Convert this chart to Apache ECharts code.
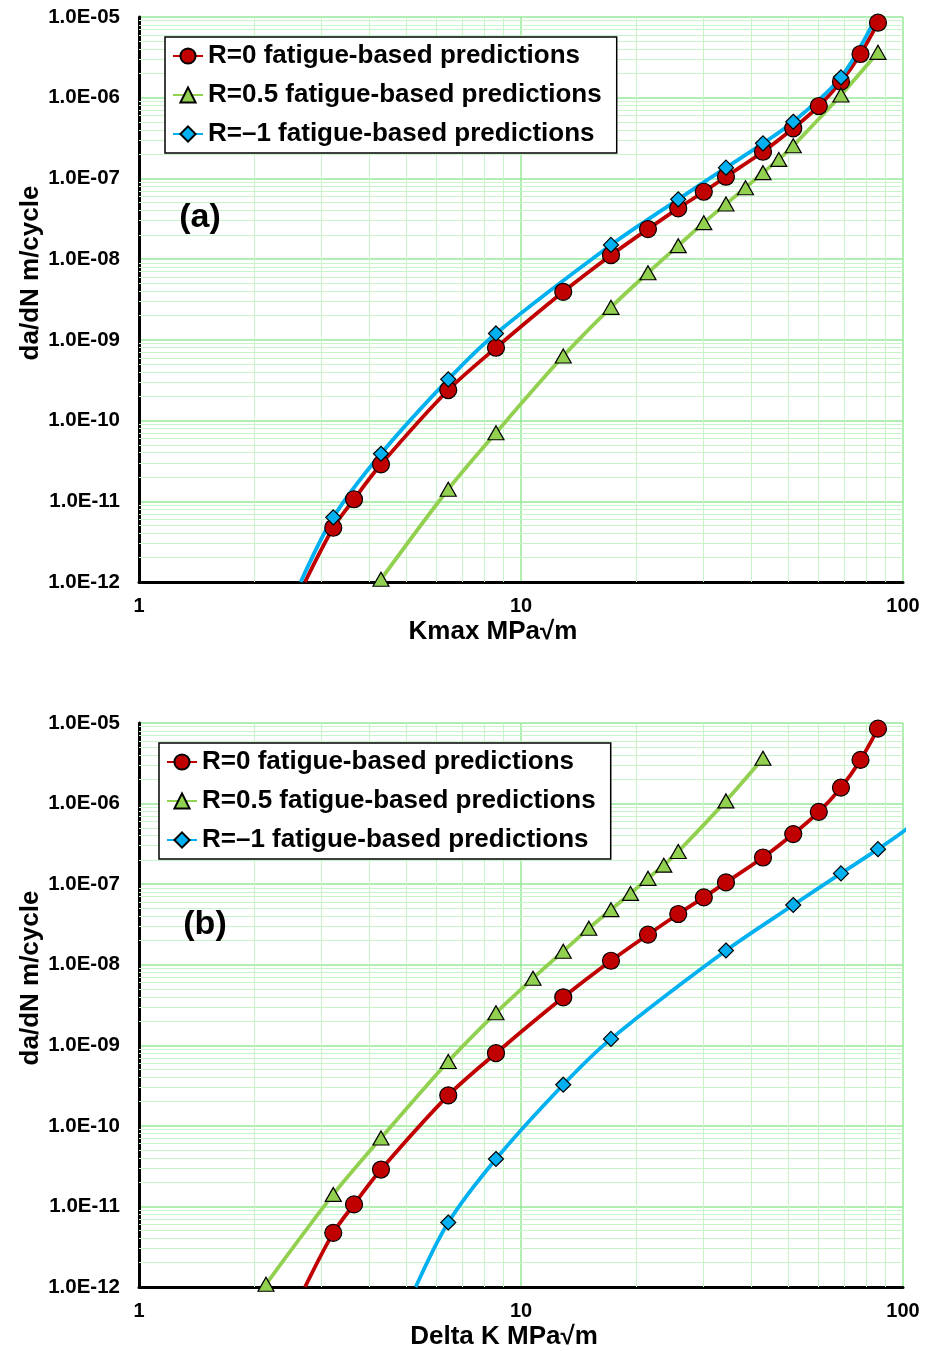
<!DOCTYPE html>
<html>
<head>
<meta charset="utf-8" />
<title>da/dN fatigue-based predictions</title>
<script src="https://cdn.jsdelivr.net/npm/echarts@6/dist/echarts.min.js"></script>
<style>html,body{margin:0;padding:0;background:#fff;}</style>
</head>
<body>
<div id="main" style="width: 927px;height:1351px;"></div>
<script type="text/javascript">
var chart = echarts.init(document.getElementById('main'));

// series names
var names = ['R=0 fatigue-based predictions', 'R=0.5 fatigue-based predictions', 'R=\u20131 fatigue-based predictions'];

// da/dN values (m/cycle), same for both panels
var dadnR0 = [1e-12, 4.7e-12, 1.06e-11, 2.87e-11, 2.39e-10, 7.98e-10, 3.94e-9, 1.12e-8, 2.36e-8, 4.26e-8, 6.84e-8, 1.05e-7, 2.14e-7, 4.18e-7, 7.89e-7, 1.58e-6, 3.48e-6, 8.5e-6];
var dadnR05 = [1.08e-12, 1.41e-11, 7.06e-11, 6.3e-10, 2.53e-9, 6.78e-9, 1.47e-8, 2.83e-8, 4.82e-8, 7.67e-8, 1.18e-7, 1.72e-7, 2.54e-7, 1.08e-6, 3.65e-6];
var dadnRm1 = [1e-12, 6.32e-12, 3.88e-11, 3.24e-10, 1.2e-9, 1.5e-8, 5.51e-8, 1.36e-7, 2.72e-7, 5.04e-7, 1.79e-6, 1.1e-5];

// panel (a): Kmax
var kmaxR0 = [2.72, 3.225, 3.655, 4.3, 6.45, 8.6, 12.9, 17.2, 21.5, 25.8, 30.1, 34.4, 43, 51.6, 60.2, 68.8, 77.4, 86];
var kmaxR05 = [4.3, 6.45, 8.6, 12.9, 17.2, 21.5, 25.8, 30.1, 34.4, 38.7, 43, 47.3, 51.6, 68.8, 86];
var kmaxRm1 = [2.65, 3.225, 4.3, 6.45, 8.6, 17.2, 25.8, 34.4, 43, 51.6, 68.8, 86];

// panel (b): Delta K
var dkR0 = [2.72, 3.225, 3.655, 4.3, 6.45, 8.6, 12.9, 17.2, 21.5, 25.8, 30.1, 34.4, 43, 51.6, 60.2, 68.8, 77.4, 86];
var dkR05 = [2.15, 3.225, 4.3, 6.45, 8.6, 10.75, 12.9, 15.05, 17.2, 19.35, 21.5, 23.65, 25.8, 34.4, 43];
var dkRm1 = [5.3, 6.45, 8.6, 12.9, 17.2, 34.4, 51.6, 68.8, 86, 103.2, 137.6, 172];

var xLabels = ['1', '10', '100'];
var yMin = 1e-12, yMax = 1e-5;

var font = "'Liberation Sans', Arial, sans-serif";
var majorGreen = '#97e897';
var minorGreen = '#c9f3c9';

// minor grid positions (2..9 in each decade)
var xMinor = [], yMinor = [];
for (var m = 2; m <= 9; m++) {
  xMinor.push(m, m * 10);
  for (var e = -12; e <= -6; e++) yMinor.push(Number(m + 'e' + e));
}

var styles = [
  { color: '#c00000', symbol: 'circle', size: 17 },
  { color: '#92d050', symbol: 'triangle', size: [16, 14] },
  { color: '#00b0f0', symbol: 'diamond', size: 15 }
];

function pairs(xs, ys) {
  return xs.map(function (x, i) {
    var item = { value: [x, ys[i]] };
    if (ys[i] === yMin) item.symbol = 'none';
    return item;
  });
}

function makeSeries(g, xs, ys, k) {
  var s = styles[k];
  return {
    name: names[k],
    type: 'line',
    xAxisIndex: g,
    yAxisIndex: g,
    smooth: 0.3,
    clip: true,
    symbol: s.symbol,
    symbolSize: s.size,
    showAllSymbol: true,
    lineStyle: { color: s.color, width: 3.8 },
    itemStyle: { color: s.color, borderColor: '#000', borderWidth: 1.2 },
    z: 3,
    data: pairs(xs, ys)
  };
}

function minorSeries(g) {
  var d = xMinor.map(function (v) { return { xAxis: v }; })
    .concat(yMinor.map(function (v) { return { yAxis: v }; }));
  return {
    type: 'line',
    xAxisIndex: g,
    yAxisIndex: g,
    data: [],
    silent: true,
    z: 1,
    markLine: {
      silent: true,
      z: 1,
      precision: 20,
      animation: false,
      symbol: ['none', 'none'],
      label: { show: false },
      emphasis: { disabled: true },
      lineStyle: { color: minorGreen, width: 1, type: 'solid' },
      data: d
    }
  };
}

function xAxisOpt(g) {
  return {
    type: 'log', logBase: 10, gridIndex: g, min: 1, max: 100,
    axisLine: { lineStyle: { color: '#000', width: 3 } },
    axisTick: { show: false },
    axisLabel: {
      margin: 14, color: '#000', fontSize: 20, fontWeight: 'bold', fontFamily: font,
      formatter: function (v) { var i = Math.round(Math.log10(v)); return xLabels[i]; }
    },
    splitLine: { show: true, lineStyle: { color: majorGreen, width: 1.5 } }
  };
}

function yAxisOpt(g) {
  return {
    type: 'log', logBase: 10, gridIndex: g, min: yMin, max: yMax,
    axisLine: { lineStyle: { color: '#000', width: 3 } },
    axisTick: { show: false },
    axisLabel: {
      margin: 19, color: '#000', fontSize: 20.5, fontWeight: 'bold', fontFamily: font,
      formatter: function (v) {
        return v.toExponential(1).toUpperCase().replace(/E([+-])(\d)$/, 'E$10$2');
      }
    },
    splitLine: { show: true, lineStyle: { color: majorGreen, width: 1.5 } }
  };
}

function legendOpt(left, top) {
  return {
    orient: 'vertical', left: left, top: top,
    padding: [6, 15, 6, 7], itemGap: 13, itemWidth: 30, itemHeight: 19,
    borderColor: '#000', borderWidth: 1.5, backgroundColor: '#fff',
    textStyle: { fontSize: 26, fontWeight: 'bold', color: '#000', fontFamily: font },
    selectedMode: false,
    data: names
  };
}

function label(text, x, y, size, rot) {
  return {
    type: 'text', x: x, y: y, rotation: rot || 0, z: 10,
    style: { text: text, font: 'bold ' + size + 'px ' + font, fill: '#000', textAlign: 'center', textVerticalAlign: 'middle' }
  };
}

var option = {
  animation: false,
  backgroundColor: '#fff',
  grid: [
    { left: 139, top: 17, width: 764, height: 565 },
    { left: 139, top: 723, width: 764, height: 564 }
  ],
  xAxis: [xAxisOpt(0), xAxisOpt(1)],
  yAxis: [yAxisOpt(0), yAxisOpt(1)],
  legend: [legendOpt(165, 37), legendOpt(159, 743)],
  graphic: [
    label('(a)', 200, 218, 34),
    label('(b)', 205, 925, 34),
    label('da/dN m/cycle', 31, 273, 26, Math.PI / 2),
    label('da/dN m/cycle', 31, 978, 26, Math.PI / 2),
    label('Kmax MPa\u221Am', 493, 632, 26),
    label('Delta K MPa\u221Am', 504, 1337, 26)
  ],
  series: [
    minorSeries(0),
    makeSeries(0, kmaxR0, dadnR0, 0),
    makeSeries(0, kmaxR05, dadnR05, 1),
    makeSeries(0, kmaxRm1, dadnRm1, 2),
    minorSeries(1),
    makeSeries(1, dkR0, dadnR0, 0),
    makeSeries(1, dkR05, dadnR05, 1),
    makeSeries(1, dkRm1, dadnRm1, 2)
  ]
};

chart.setOption(option);
</script>
</body>
</html>
